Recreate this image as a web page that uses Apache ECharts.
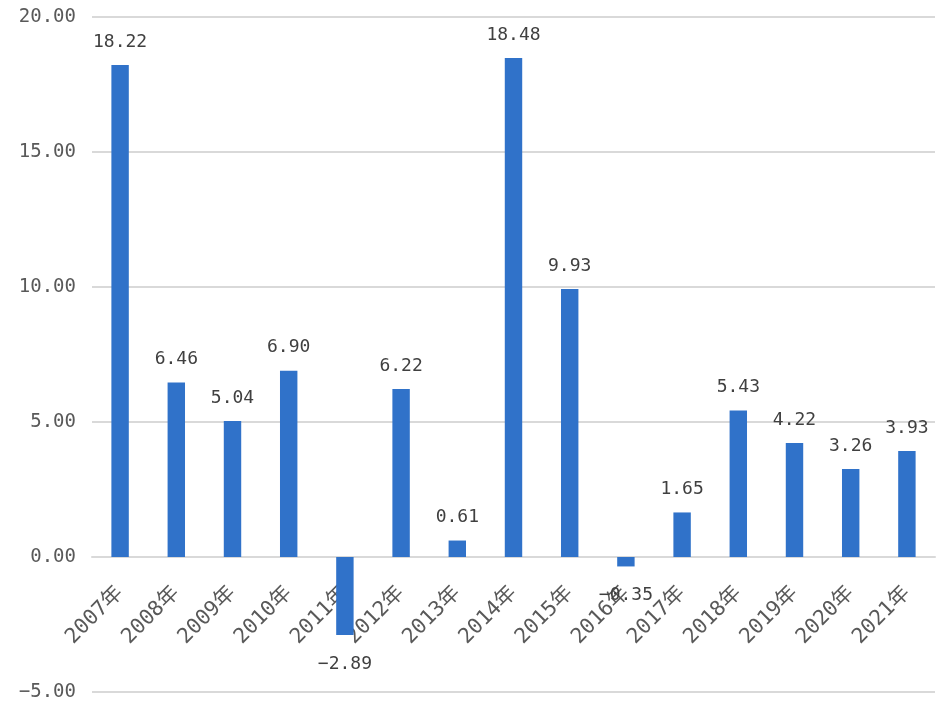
<!DOCTYPE html>
<html><head><meta charset="utf-8">
<script src="https://cdn.jsdelivr.net/npm/echarts@6/dist/echarts.min.js"></script>
<style>html,body{margin:0;padding:0;background:#fff}#c{width:950px;height:707px}</style>
</head><body><div id="c"></div>
<script>
const categories = ['2007年','2008年','2009年','2010年','2011年','2012年','2013年','2014年','2015年','2016年','2017年','2018年','2019年','2020年','2021年'];
const values = [18.22, 6.46, 5.04, 6.90, -2.89, 6.22, 0.61, 18.48, 9.93, -0.35, 1.65, 5.43, 4.22, 3.26, 3.93];
const yTicks = {min: -5, max: 20, interval: 5};

const fmt = v => (v < 0 ? '−' : '') + Math.abs(v).toFixed(2);
const FONT = '"DejaVu Sans Mono", "Noto Sans CJK SC", monospace';
const gridTop = 17, gridBottom = 15, H = 707;
const plotH = H - gridTop - gridBottom;
const zeroOffset = -plotH * (0 - yTicks.min) / (yTicks.max - yTicks.min);
const chart = echarts.init(document.getElementById('c'));
chart.setOption({
  animation: false,
  grid: {left: 92, right: 15, top: gridTop, bottom: gridBottom, containLabel: false, outerBoundsMode: 'none'},
  xAxis: {
    type: 'category', data: categories, offset: zeroOffset,
    axisLine: {onZero: false, lineStyle: {color: '#d9d9d9', width: 2}},
    axisTick: {show: false},
    axisLabel: {rotate: 45, color: '#595959', fontSize: 21, fontFamily: FONT, margin: 33, interval: 0}
  },
  yAxis: {
    type: 'value', min: yTicks.min, max: yTicks.max, interval: yTicks.interval,
    axisLine: {show: false}, axisTick: {show: false},
    axisLabel: {formatter: fmt, color: '#595959', fontSize: 19, fontFamily: FONT, margin: 16},
    splitLine: {lineStyle: {color: '#d9d9d9', width: 2}}
  },
  series: [{
    type: 'bar', barWidth: '31%',
    itemStyle: {color: '#3072C9'},
    label: {show: true, color: '#404040', fontSize: 18, fontFamily: FONT, distance: 14,
      formatter: p => fmt(p.value)},
    data: values.map(v => ({value: v, label: {position: v < 0 ? 'bottom' : 'top', distance: v < 0 ? 20 : 14}}))
  }]
});
</script></body></html>
